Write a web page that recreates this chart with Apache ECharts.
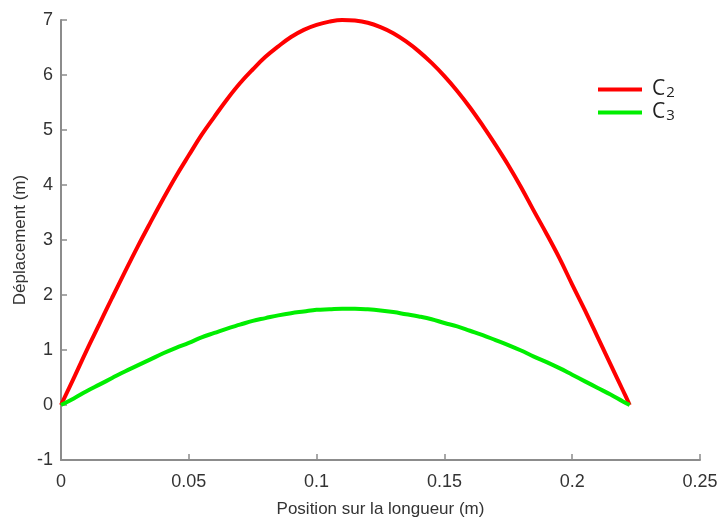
<!DOCTYPE html>
<html>
<head>
<meta charset="utf-8">
<script src="https://cdn.jsdelivr.net/npm/echarts@6/dist/echarts.min.js"></script>
<style>html,body{margin:0;padding:0;background:#fff}#c{width:721px;height:521px}</style>
</head>
<body>
<div id="c"></div>
<script>
const positions = [0, 0.005, 0.01, 0.015, 0.02, 0.025, 0.03, 0.035, 0.04, 0.045, 0.05, 0.055, 0.06, 0.065, 0.07, 0.075, 0.08, 0.085, 0.09, 0.095, 0.10, 0.105, 0.11, 0.115, 0.12, 0.125, 0.13, 0.135, 0.14, 0.145, 0.15, 0.155, 0.16, 0.165, 0.17, 0.175, 0.18, 0.185, 0.19, 0.195, 0.20, 0.205, 0.21, 0.215, 0.22, 0.2225];
const c2Values = [0, 0.49, 0.99, 1.47, 1.95, 2.42, 2.88, 3.32, 3.75, 4.16, 4.54, 4.91, 5.24, 5.56, 5.85, 6.10, 6.33, 6.52, 6.69, 6.82, 6.91, 6.97, 7.0, 6.99, 6.95, 6.87, 6.76, 6.61, 6.43, 6.22, 5.98, 5.71, 5.41, 5.08, 4.73, 4.36, 3.96, 3.53, 3.11, 2.67, 2.19, 1.72, 1.23, 0.74, 0.25, 0];
const c3Values = [0, 0.12, 0.25, 0.37, 0.49, 0.61, 0.72, 0.83, 0.94, 1.04, 1.13, 1.23, 1.31, 1.39, 1.46, 1.53, 1.58, 1.63, 1.67, 1.70, 1.73, 1.74, 1.75, 1.75, 1.74, 1.72, 1.69, 1.65, 1.61, 1.56, 1.49, 1.43, 1.35, 1.27, 1.18, 1.09, 0.99, 0.88, 0.78, 0.67, 0.55, 0.43, 0.31, 0.19, 0.06, 0];
const seriesNames = ['C2', 'C3'];
const xTicks = [0, 0.05, 0.1, 0.15, 0.2, 0.25];
const yTicks = [-1, 0, 1, 2, 3, 4, 5, 6, 7];

const chart = echarts.init(document.getElementById('c'));
const axisColor = '#8c8c8c';
const textColor = '#333';
const font = '"Liberation Sans", Arial, sans-serif';
const legendFont = '"Open Sans", "Liberation Sans", sans-serif';
chart.setOption({
  animation: false,
  grid: { left: 61, right: 21, top: 20, bottom: 61, containLabel: false, outerBoundsMode: 'none' },
  legend: {
    orient: 'vertical',
    left: 593, top: 74,
    icon: 'rect',
    itemWidth: 44, itemHeight: 4, itemGap: 2,
    data: seriesNames,
    formatter: function (n) { return '{a|C}{b|' + n.slice(1) + '}'; },
    textStyle: {
      lineHeight: 21,
      rich: {
        a: { fontSize: 21, color: '#222', fontFamily: legendFont, verticalAlign: 'bottom', padding: [0, 0, 0, 5], lineHeight: 21 },
        b: { fontSize: 15, color: '#222', fontFamily: legendFont, verticalAlign: 'bottom', padding: [0, 0, 0, 1], lineHeight: 21 }
      }
    }
  },
  xAxis: {
    type: 'value', min: xTicks[0], max: xTicks[xTicks.length - 1], interval: 0.05,
    name: 'Position sur la longueur (m)', nameLocation: 'middle', nameGap: 41, nameMoveOverlap: false,
    nameTextStyle: { fontSize: 17, color: textColor, fontFamily: font },
    axisLine: { show: true, onZero: false, lineStyle: { color: axisColor, width: 2 } },
    axisTick: { show: true, inside: true, length: 6, lineStyle: { color: axisColor, width: 1.5 } },
    axisLabel: { fontSize: 18, color: textColor, fontFamily: font, margin: 13, formatter: v => String(+v.toFixed(2)) },
    splitLine: { show: false }
  },
  yAxis: {
    type: 'value', min: yTicks[0], max: yTicks[yTicks.length - 1], interval: 1,
    name: 'Déplacement (m)', nameLocation: 'middle', nameGap: 32, nameRotate: 90, nameMoveOverlap: false,
    nameTextStyle: { fontSize: 17, color: textColor, fontFamily: font },
    axisLine: { show: true, onZero: false, lineStyle: { color: axisColor, width: 2 } },
    axisTick: { show: true, inside: true, length: 6, lineStyle: { color: axisColor, width: 1.5 } },
    axisLabel: { fontSize: 18, color: textColor, fontFamily: font, margin: 8 },
    splitLine: { show: false }
  },
  series: [
    { name: seriesNames[0], type: 'line', smooth: 0.4, symbol: 'none',
      data: positions.map((x, i) => [x, c2Values[i]]),
      lineStyle: { color: '#ff0000', width: 4 }, itemStyle: { color: '#ff0000' } },
    { name: seriesNames[1], type: 'line', smooth: 0.4, symbol: 'none',
      data: positions.map((x, i) => [x, c3Values[i]]),
      lineStyle: { color: '#00ee00', width: 4 }, itemStyle: { color: '#00ee00' } }
  ]
});
</script>
</body>
</html>
